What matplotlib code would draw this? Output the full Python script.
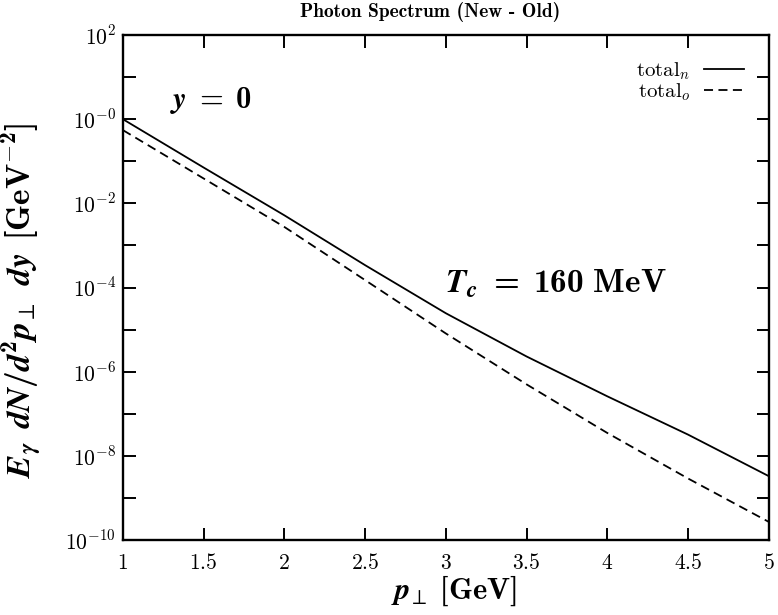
import matplotlib
matplotlib.use('Agg')
import matplotlib.pyplot as plt

# transverse momentum grid [GeV]
pt = [1.0, 1.5, 2.0, 2.5, 3.0, 3.5, 4.0, 4.5, 5.0]
# photon yield, new calculation
total_n = [1.0, 7.1e-2, 5.2e-3, 3.4e-4, 2.45e-5, 2.3e-6, 2.6e-7, 3.2e-8, 3.3e-9]
# photon yield, old calculation
total_o = [0.55, 3.9e-2, 2.75e-3, 1.5e-4, 8.1e-6, 5.0e-7, 3.5e-8, 2.9e-9, 2.7e-10]

xticks = [1, 1.5, 2, 2.5, 3, 3.5, 4, 4.5, 5]
xticklabels = ['1', '1.5', '2', '2.5', '3', '3.5', '4', '4.5', '5']
yexp = [2, 0, -2, -4, -6, -8, -10]

plt.rcParams['mathtext.fontset'] = 'cm'
# bold labels: computer modern bold roman + bold italic
plt.rcParams['mathtext.rm'] = 'cmr10'
plt.rcParams['mathtext.it'] = 'cmmi10'
plt.rcParams['mathtext.bf'] = 'cmb10'
plt.rcParams['mathtext.bfit'] = 'STIXGeneral:italic:bold'
plt.rcParams['mathtext.fallback'] = 'cm'
plt.rcParams['font.family'] = 'serif'
plt.rcParams['font.serif'] = ['DejaVu Serif']

fig = plt.figure(figsize=(7.78, 6.15), dpi=100)
ax = fig.add_axes([0.158, 0.122, 0.83, 0.821])

ax.plot(pt, total_n, color='black', lw=1.3, label=r'$\mathrm{total}_n$')
ax.plot(pt, total_o, color='black', lw=1.3, ls=(0, (5, 3)), label=r'$\mathrm{total}_o$')

ax.set_yscale('log')
ax.set_xlim(1, 5)
ax.set_ylim(1e-10, 1e2)

ax.set_xticks(xticks)
ax.set_xticklabels(['$' + s + '$' for s in xticklabels])
ax.set_yticks([10.0 ** e for e in range(-10, 3)])
ylabs = []
for e in range(-10, 3):
    if e in yexp:
        ylabs.append(r'$10^{%d}$' % e if e != 0 else r'$10^{-0}$')
    else:
        ylabs.append('')
ax.set_yticklabels(ylabs)
ax.minorticks_off()
ax.tick_params(which='both', direction='in', length=9, width=1.4,
               top=True, right=True, labelsize=15.5)
ax.tick_params(axis='x', pad=9)
ax.tick_params(axis='y', pad=5)
for sp in ax.spines.values():
    sp.set_linewidth(1.7)

fig.text(0.553, 0.981, 'Photon Spectrum (New - Old)', family='cmb10', fontsize=14,
         ha='center', va='center')
ax.set_xlabel(r'$\mathbfit{p}_{\!\perp}\;\mathbf{[GeV]}$', fontsize=22,
              math_fontfamily='custom')
ax.xaxis.set_label_coords(0.512, -0.066)
ax.set_ylabel(r'$\mathbfit{E}_{\mathbfit{\gamma}}\;\,\mathbfit{dN}\mathbf{/}\mathbfit{d}^{\mathbf{2}}'
              r'\mathbfit{p}_{\!\perp}\;\,\mathbfit{dy}\;\,\mathbf{[GeV^{-2}]}$',
              fontsize=24, math_fontfamily='custom')
ax.yaxis.set_label_coords(-0.122, 0.475)

ax.text(0.073, 0.855, r'$\mathbfit{y}\mathbf{\;=\;0}$', transform=ax.transAxes,
        fontsize=22, math_fontfamily='custom')
ax.text(0.498, 0.491, r'$\mathbfit{T}_{\mathbfit{c}}\mathbf{\;=\;160\ MeV}$', transform=ax.transAxes,
        fontsize=24, math_fontfamily='custom')

ax.legend(loc='upper right', frameon=False, markerfirst=False, fontsize=15,
          handlelength=1.9, handletextpad=0.65, borderaxespad=0.8, labelspacing=0.0)

fig.savefig('out.png', dpi=100)
